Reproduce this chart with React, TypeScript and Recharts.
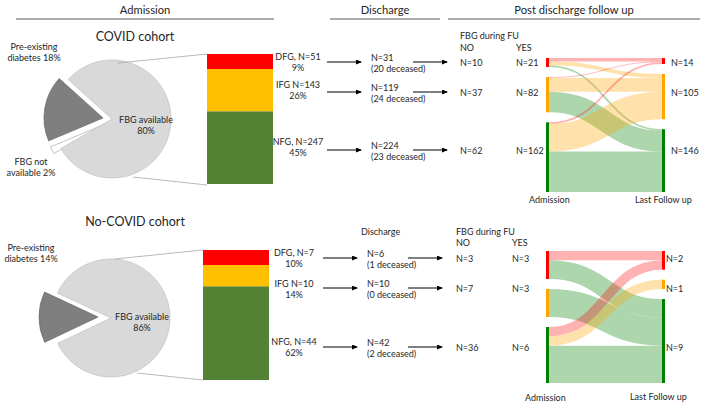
import React from "react";
import { PieChart, Pie, Cell, BarChart, Bar, XAxis, YAxis, Sankey } from "recharts";

// ---- data ----
const GROUPS = ["DFG", "IFG", "NFG"];
const PIE_SLICES = ["Pre-existing diabetes", "FBG not available", "FBG available"];

const COVID_PIE_PCT = [18, 2, 80];
const COVID_ADMISSION_N = [51, 143, 247];
const COVID_ADMISSION_PCT = [9, 26, 45];
const COVID_DISCHARGE_N = [31, 119, 224];
const COVID_DECEASED = [20, 24, 23];
const COVID_FU_NO = [10, 37, 62];
const COVID_FU_YES = [21, 82, 162];
const COVID_LAST_FU = [14, 105, 146];
// rows: group at admission, columns: group at last follow up
const COVID_FLOWS = [
  [8, 9, 4],
  [2, 32, 48],
  [4, 64, 94],
];

const NOCOVID_PIE_PCT = [14, 0, 86];
const NOCOVID_ADMISSION_N = [7, 10, 44];
const NOCOVID_ADMISSION_PCT = [10, 14, 62];
const NOCOVID_DISCHARGE_N = [6, 10, 42];
const NOCOVID_DECEASED = [1, 0, 2];
const NOCOVID_FU_NO = [3, 7, 36];
const NOCOVID_FU_YES = [3, 3, 6];
const NOCOVID_LAST_FU = [2, 1, 9];
const NOCOVID_FLOWS = [
  [1, 0, 2],
  [0, 0, 3],
  [1, 1, 4],
];

// ---- styles ----
const FONT = "Lato, 'Open Sans', sans-serif";
const INK = "#262626";
const SMALL = 9;
const BAR_COLORS: Record<string, string> = { DFG: "#FF0000", IFG: "#FFC000", NFG: "#548235" };
const NODE_COLORS: Record<string, string> = { DFG: "#FF0000", IFG: "#FFA500", NFG: "#008000" };
const LINK_COLORS: Record<string, string> = {
  DFG: "rgba(255,0,0,0.3)",
  IFG: "rgba(255,165,0,0.33)",
  NFG: "rgba(0,128,0,0.32)",
};
const SLICE_FILL = ["#7F7F7F", "#FFFFFF", "#D9D9D9"];
const SLICE_STROKE = ["#6f6f6f", "#b5b5b5", "#c4c4c4"];

const COHORTS = [
  {
    title: "COVID cohort",
    pie: COVID_PIE_PCT,
    admN: COVID_ADMISSION_N,
    admPct: COVID_ADMISSION_PCT,
    disN: COVID_DISCHARGE_N,
    dead: COVID_DECEASED,
    no: COVID_FU_NO,
    yes: COVID_FU_YES,
    last: COVID_LAST_FU,
    flows: COVID_FLOWS,
    L: {
      titleY: 36,
      pieTop: 30,
      startAngle: 138,
      r: 59,
      centers: [[103, 118], [105, 124], [112, 119]],
      preLabel: [34, 46],
      naLabel: [31, 161],
      availLabel: [146, 119],
      lines: [[118, 63, 207, 54], [133, 177, 207, 185]],
      bar: [207, 54, 66, 130],
      labelX: 298,
      labelY: [62, 90, 147],
      rows: [62, 92, 150],
      arrow1: [327, 362],
      disX: 371,
      arrow2: [413, 448],
      noX: 460,
      yesX: 516,
      lastX: 671,
      fuHeadY: 35,
      noYesY: 47,
      dischargeHead: null as null | number[],
      sankey: [546, 58, 119, 134],
      admLabel: [529, 199],
      lastLabel: [635, 199],
    },
  },
  {
    title: "No-COVID cohort",
    pie: NOCOVID_PIE_PCT,
    admN: NOCOVID_ADMISSION_N,
    admPct: NOCOVID_ADMISSION_PCT,
    disN: NOCOVID_DISCHARGE_N,
    dead: NOCOVID_DECEASED,
    no: NOCOVID_FU_NO,
    yes: NOCOVID_FU_YES,
    last: NOCOVID_LAST_FU,
    flows: NOCOVID_FLOWS,
    L: {
      titleY: 221,
      pieTop: 230,
      startAngle: 155,
      r: 59,
      centers: [[98, 317], [98, 317], [111, 318]],
      preLabel: [31, 247],
      naLabel: [0, 0],
      availLabel: [142, 316],
      lines: [[115, 259, 203, 250], [137, 373, 203, 380]],
      bar: [203, 250, 66, 130],
      labelX: 294,
      labelY: [258, 289, 347],
      rows: [258, 288, 347],
      arrow1: [323, 358],
      disX: 367,
      arrow2: [408, 443],
      noX: 456,
      yesX: 512,
      lastX: 666,
      fuHeadY: 231,
      noYesY: 242,
      dischargeHead: [361, 231] as null | number[],
      sankey: [546, 251, 119, 132],
      admLabel: [525, 397],
      lastLabel: [630, 396],
    },
  },
];

type Cohort = (typeof COHORTS)[number];

function Txt({ x, y, children, anchor = "start", size = SMALL }: any) {
  return (
    <text x={x} y={y} textAnchor={anchor} dominantBaseline="central" fontSize={size} fill={INK} fontFamily={FONT}>
      {children}
    </text>
  );
}

function CohortPie({ c }: { c: Cohort }) {
  const { L } = c;
  const data = PIE_SLICES.map((name, i) => ({ name, value: c.pie[i] }));
  return (
    <div style={{ position: "absolute", left: 0, top: L.pieTop }}>
      <PieChart width={200} height={170} margin={{ top: 0, right: 0, bottom: 0, left: 0 }}>
        {data.map((slice, k) =>
          slice.value > 0 ? (
            <Pie
              key={k}
              data={data}
              dataKey="value"
              cx={L.centers[k][0]}
              cy={L.centers[k][1] - L.pieTop}
              outerRadius={L.r}
              startAngle={L.startAngle}
              endAngle={L.startAngle + 360}
              isAnimationActive={false}
            >
              {data.map((d, i) => (
                <Cell
                  key={i}
                  fill={i === k ? SLICE_FILL[i] : "none"}
                  stroke={i === k ? SLICE_STROKE[i] : "none"}
                  strokeWidth={0.8}
                />
              ))}
            </Pie>
          ) : null
        )}
      </PieChart>
    </div>
  );
}

function CohortBar({ c }: { c: Cohort }) {
  const [x, y, w, h] = c.L.bar;
  const row: Record<string, any> = { cohort: c.title };
  GROUPS.forEach((g, i) => (row[g] = c.admN[i]));
  const total = c.admN.reduce((a, b) => a + b, 0);
  return (
    <div style={{ position: "absolute", left: x, top: y }}>
      <BarChart width={w} height={h} data={[row]} margin={{ top: 0, right: 0, bottom: 0, left: 0 }} barCategoryGap={0}>
        <XAxis dataKey="cohort" hide />
        <YAxis hide domain={[0, total]} allowDataOverflow />
        {[...GROUPS].reverse().map((g) => (
          <Bar key={g} dataKey={g} stackId="adm" fill={BAR_COLORS[g]} isAnimationActive={false} />
        ))}
      </BarChart>
    </div>
  );
}

function FlowNode(props: any) {
  const { x, y, width, height, payload } = props;
  return <rect x={x} y={y} width={width} height={height} fill={NODE_COLORS[payload.group]} />;
}

function FlowLink(props: any) {
  const { sourceX, targetX, sourceY, targetY, sourceControlX, targetControlX, linkWidth, payload } = props;
  return (
    <path
      d={`M${sourceX},${sourceY} C${sourceControlX},${sourceY} ${targetControlX},${targetY} ${targetX},${targetY}`}
      fill="none"
      stroke={LINK_COLORS[payload.target.group]}
      strokeWidth={linkWidth}
    />
  );
}

function CohortSankey({ c }: { c: Cohort }) {
  const [x, y, w, h] = c.L.sankey;
  const nodes = [
    ...GROUPS.map((g) => ({ name: `${g} admission`, group: g })),
    ...GROUPS.map((g) => ({ name: `${g} last follow up`, group: g })),
  ];
  const links: { source: number; target: number; value: number }[] = [];
  c.flows.forEach((r, i) =>
    r.forEach((v, j) => {
      if (v > 0) links.push({ source: i, target: GROUPS.length + j, value: v });
    })
  );
  return (
    <div style={{ position: "absolute", left: x, top: y }}>
      <Sankey
        width={w}
        height={h}
        data={{ nodes, links }}
        nodeWidth={3}
        nodePadding={10}
        iterations={0}
        margin={{ top: 0, right: 0, bottom: 0, left: 0 }}
        node={(p: any) => <FlowNode {...p} />}
        link={(p: any) => <FlowLink {...p} />}
      />
    </div>
  );
}

function Arrow({ x1, x2, y }: { x1: number; x2: number; y: number }) {
  return <line x1={x1} y1={y} x2={x2 - 1} y2={y} stroke="#000" strokeWidth={1} markerEnd="url(#arrowHead)" />;
}

function CohortAnnotations({ c }: { c: Cohort }) {
  const { L } = c;
  return (
    <g>
      <Txt x={135} y={L.titleY} anchor="middle" size={12.5}>
        {c.title}
      </Txt>
      <Txt x={L.preLabel[0]} y={L.preLabel[1]} anchor="middle">Pre-existing</Txt>
      <Txt x={L.preLabel[0]} y={L.preLabel[1] + 11} anchor="middle">{`diabetes ${c.pie[0]}%`}</Txt>
      {c.pie[1] > 0 && (
        <>
          <Txt x={L.naLabel[0]} y={L.naLabel[1]} anchor="middle">FBG not</Txt>
          <Txt x={L.naLabel[0]} y={L.naLabel[1] + 11} anchor="middle">{`available ${c.pie[1]}%`}</Txt>
        </>
      )}
      <Txt x={L.availLabel[0]} y={L.availLabel[1]} anchor="middle">FBG available</Txt>
      <Txt x={L.availLabel[0]} y={L.availLabel[1] + 11} anchor="middle">{`${c.pie[2]}%`}</Txt>
      {L.lines.map((l, i) => (
        <line key={i} x1={l[0]} y1={l[1]} x2={l[2]} y2={l[3]} stroke="#a6a6a6" strokeWidth={0.8} />
      ))}
      {GROUPS.map((g, i) => (
        <g key={g}>
          <Txt x={L.labelX} y={L.labelY[i] - 5.5} anchor="middle">
            {`${g}${i === 1 ? "" : ","} N=${c.admN[i]}`}
          </Txt>
          <Txt x={L.labelX} y={L.labelY[i] + 5.5} anchor="middle">{`${c.admPct[i]}%`}</Txt>
          <Arrow x1={L.arrow1[0]} x2={L.arrow1[1]} y={L.rows[i]} />
          <Txt x={L.disX} y={L.rows[i] - 5}>{`N=${c.disN[i]}`}</Txt>
          <Txt x={L.disX} y={L.rows[i] + 6}>{`(${c.dead[i]} deceased)`}</Txt>
          <Arrow x1={L.arrow2[0]} x2={L.arrow2[1]} y={L.rows[i]} />
          <Txt x={L.noX} y={L.rows[i]}>{`N=${c.no[i]}`}</Txt>
          <Txt x={L.yesX} y={L.rows[i]}>{`N=${c.yes[i]}`}</Txt>
          <Txt x={L.lastX} y={L.rows[i]}>{`N=${c.last[i]}`}</Txt>
        </g>
      ))}
      {L.dischargeHead && (
        <Txt x={L.dischargeHead[0]} y={L.dischargeHead[1]}>Discharge</Txt>
      )}
      <Txt x={L.noX} y={L.fuHeadY}>FBG during FU</Txt>
      <Txt x={L.noX} y={L.noYesY}>NO</Txt>
      <Txt x={L.yesX} y={L.noYesY}>YES</Txt>
      <Txt x={L.admLabel[0]} y={L.admLabel[1]}>Admission</Txt>
      <Txt x={L.lastLabel[0]} y={L.lastLabel[1]}>Last Follow up</Txt>
    </g>
  );
}

const HEADERS = [
  { label: "Admission", x1: 16, x2: 274 },
  { label: "Discharge", x1: 330, x2: 440 },
  { label: "Post discharge follow up", x1: 448, x2: 700 },
];

export default function App() {
  return (
    <div
      style={{
        position: "absolute",
        left: 0,
        top: 0,
        width: 709,
        height: 403,
        background: "#fff",
        fontFamily: FONT,
        overflow: "hidden",
      }}
    >
      {COHORTS.map((c) => (
        <React.Fragment key={c.title}>
          <CohortPie c={c} />
          <CohortBar c={c} />
          <CohortSankey c={c} />
        </React.Fragment>
      ))}
      <svg width={709} height={403} style={{ position: "absolute", left: 0, top: 0, pointerEvents: "none" }}>
        <defs>
          <marker id="arrowHead" markerWidth="6" markerHeight="5" refX="5" refY="2.5" orient="auto" markerUnits="userSpaceOnUse">
            <path d="M0,0 L6,2.5 L0,5 Z" fill="#000" />
          </marker>
        </defs>
        {HEADERS.map((h) => (
          <g key={h.label}>
            <Txt x={(h.x1 + h.x2) / 2} y={9} anchor="middle" size={11.2}>
              {h.label}
            </Txt>
            <line x1={h.x1} y1={19} x2={h.x2} y2={19} stroke="#595959" strokeWidth={1} />
          </g>
        ))}
        {COHORTS.map((c) => (
          <CohortAnnotations key={c.title} c={c} />
        ))}
      </svg>
    </div>
  );
}
